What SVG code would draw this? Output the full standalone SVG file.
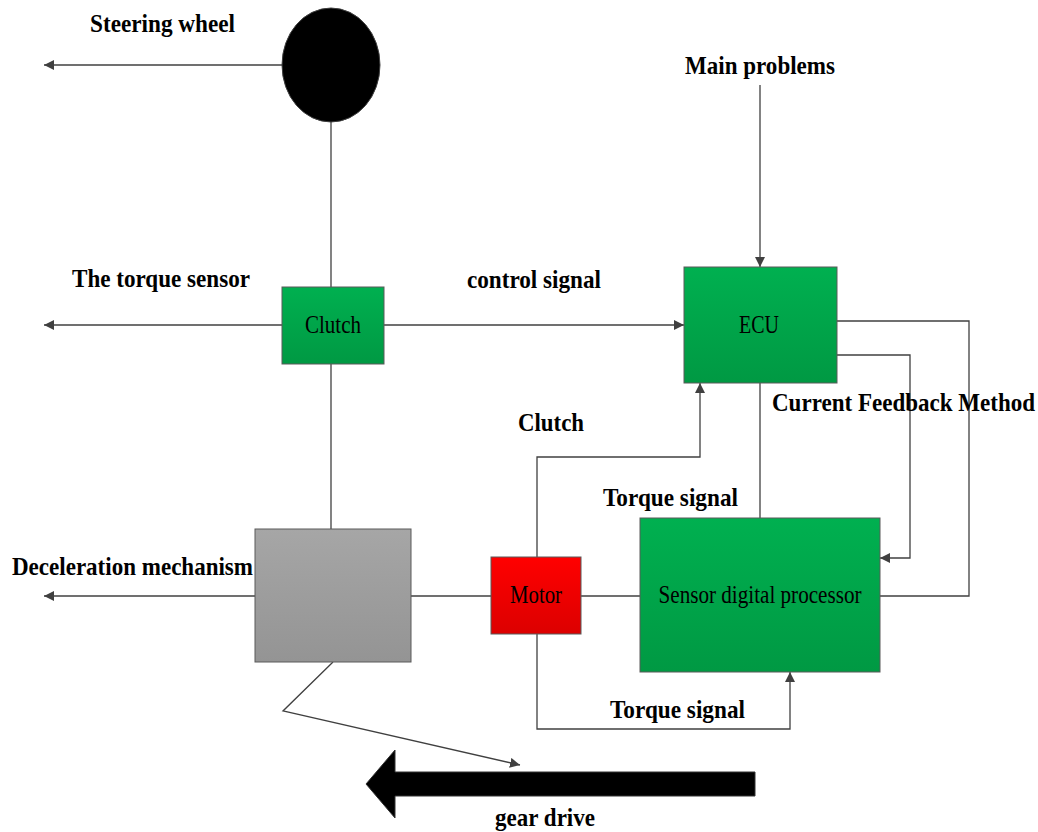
<svg xmlns="http://www.w3.org/2000/svg" width="1038" height="832" viewBox="0 0 1038 832">
<defs>
<linearGradient id="gGreen" x1="0" y1="0" x2="0" y2="1"><stop offset="0" stop-color="#00b050"/><stop offset="1" stop-color="#009943"/></linearGradient>
<linearGradient id="gRed" x1="0" y1="0" x2="0" y2="1"><stop offset="0" stop-color="#ff0000"/><stop offset="1" stop-color="#dc0000"/></linearGradient>
<linearGradient id="gGray" x1="0" y1="0" x2="0" y2="1"><stop offset="0" stop-color="#a6a6a6"/><stop offset="1" stop-color="#949494"/></linearGradient>
<marker id="arr" viewBox="0 0 10 10" refX="10" refY="5" markerWidth="10" markerHeight="10" markerUnits="userSpaceOnUse" orient="auto"><path d="M0,0 L10,5 L0,10 z" fill="#404040"/></marker>
</defs>
<style>
.box{stroke:#5a5a5a;stroke-width:1}
.ln{fill:none;stroke:#404040;stroke-width:1.3}
.lbl{font-family:"Liberation Serif","Times New Roman",serif;font-weight:bold;font-size:26px;fill:#000}
.ntx{font-family:"Liberation Serif","Times New Roman",serif;font-size:25px;fill:#000;text-anchor:middle}
</style>
<rect width="1038" height="832" fill="#fff"/>
<g id="connectors">
<path class="ln" d="M282,65 H44" marker-end="url(#arr)"/>
<path class="ln" d="M331,122 V287"/>
<path class="ln" d="M282,325 H44" marker-end="url(#arr)"/>
<path class="ln" d="M384,325 H684" marker-end="url(#arr)"/>
<path class="ln" d="M760,85 V267" marker-end="url(#arr)"/>
<path class="ln" d="M331,364 V529"/>
<path class="ln" d="M255,596 H44" marker-end="url(#arr)"/>
<path class="ln" d="M411,596 H491"/>
<path class="ln" d="M581,596 H640"/>
<path class="ln" d="M837,321 H969 V596 H880"/>
<path class="ln" d="M837,355 H910 V558 H880" marker-end="url(#arr)"/>
<path class="ln" d="M760,383 V518"/>
<path class="ln" d="M537,557 V457 H700 V383" marker-end="url(#arr)"/>
<path class="ln" d="M537,634 V729 H790 V672" marker-end="url(#arr)"/>
<path class="ln" d="M333,662 L283,711 L520,765" marker-end="url(#arr)"/>
</g>
<g id="steering-wheel"><ellipse cx="331" cy="65" rx="49" ry="57" fill="#000" stroke="#404040" stroke-width="1"/></g>
<g id="clutch"><rect class="box" x="282" y="287" width="102" height="77" fill="url(#gGreen)"/><text class="ntx" x="333" y="333" textLength="56" lengthAdjust="spacingAndGlyphs">Clutch</text></g>
<g id="ecu"><rect class="box" x="684" y="267" width="153" height="116" fill="url(#gGreen)"/><text class="ntx" x="759" y="333" textLength="40" lengthAdjust="spacingAndGlyphs">ECU</text></g>
<g id="sensor-processor"><rect class="box" x="640" y="518" width="240" height="154" fill="url(#gGreen)"/><text class="ntx" x="760" y="603" textLength="203" lengthAdjust="spacingAndGlyphs">Sensor digital processor</text></g>
<g id="motor"><rect class="box" x="491" y="557" width="90" height="77" fill="url(#gRed)"/><text class="ntx" x="536" y="603" textLength="52" lengthAdjust="spacingAndGlyphs">Motor</text></g>
<g id="deceleration"><rect class="box" x="255" y="529" width="156" height="133" fill="url(#gGray)"/></g>
<g id="gear-arrow"><polygon points="755,772 395,772 395,750 366,784 395,818 395,796 755,796" fill="#000" stroke="#333" stroke-width="1"/></g>
<g id="labels">
<text class="lbl" x="90" y="32" textLength="145" lengthAdjust="spacingAndGlyphs">Steering wheel</text>
<text class="lbl" x="685" y="74" textLength="150" lengthAdjust="spacingAndGlyphs">Main problems</text>
<text class="lbl" x="72" y="287" textLength="178" lengthAdjust="spacingAndGlyphs">The torque sensor</text>
<text class="lbl" x="467" y="288" textLength="134" lengthAdjust="spacingAndGlyphs">control signal</text>
<text class="lbl" x="772" y="411" textLength="263" lengthAdjust="spacingAndGlyphs">Current Feedback Method</text>
<text class="lbl" x="518" y="431" textLength="66" lengthAdjust="spacingAndGlyphs">Clutch</text>
<text class="lbl" x="603" y="506" textLength="135" lengthAdjust="spacingAndGlyphs">Torque signal</text>
<text class="lbl" x="12" y="575" textLength="241" lengthAdjust="spacingAndGlyphs">Deceleration mechanism</text>
<text class="lbl" x="610" y="718" textLength="135" lengthAdjust="spacingAndGlyphs">Torque signal</text>
<text class="lbl" x="495" y="826" textLength="100" lengthAdjust="spacingAndGlyphs">gear drive</text>
</g>
</svg>
